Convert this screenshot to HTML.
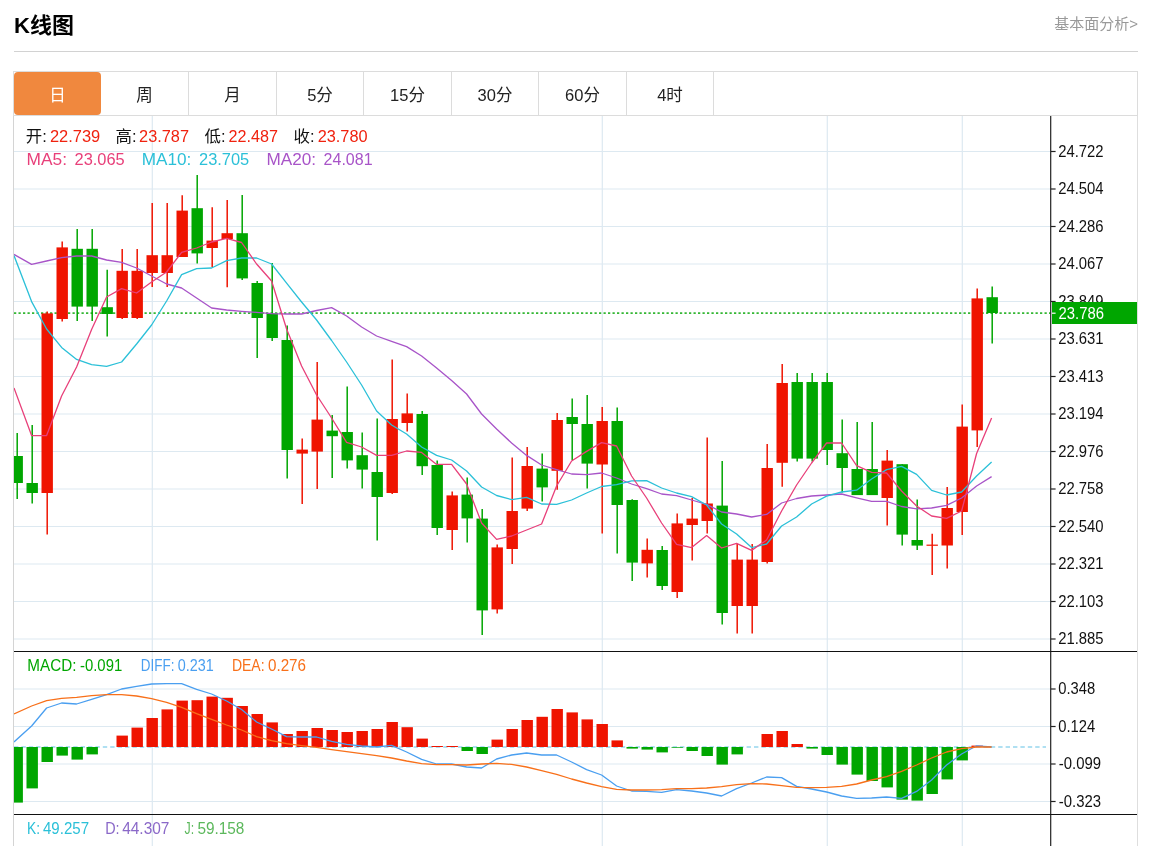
<!DOCTYPE html>
<html lang="zh-CN"><head><meta charset="utf-8"><title>K线图</title>
<style>
html,body{margin:0;padding:0;background:#fff;}
body{width:1153px;height:846px;position:relative;overflow:hidden;font-family:"Liberation Sans","Noto Sans CJK SC",sans-serif;}
h2{position:absolute;left:14px;top:12px;margin:0;font-size:22px;line-height:28px;font-weight:bold;color:#000;letter-spacing:0}
.more{position:absolute;right:15px;top:14px;font-size:15px;line-height:20px;color:#999;text-decoration:none}
.hr{position:absolute;left:14px;top:51px;width:1124px;height:1px;background:#d2d2d2}
ul.tabs{position:absolute;left:13px;top:71px;width:1123px;height:43px;margin:0;padding:0;list-style:none;border:1px solid #dcdcdc;box-sizing:content-box}
ul.tabs li{float:left;width:86.4px;height:43px;line-height:46px;text-align:center;font-size:16.5px;color:#222;border-right:1px solid #dcdcdc}
ul.tabs li.on{background:#f0883e;color:#fff;border-radius:4px;border-right:0;position:relative}
</style></head><body>
<h2>K线图</h2>
<a class="more">基本面分析&gt;</a>
<div class="hr"></div>
<ul class="tabs"><li class="on" style="width:87px">日</li><li style="width:87px">周</li><li style="width:87px">月</li><li style="width:86px">5分</li><li style="width:87px">15分</li><li style="width:86px">30分</li><li style="width:87px">60分</li><li style="width:86px">4时</li></ul>
<svg width="1153" height="846" viewBox="0 0 1153 846" style="position:absolute;left:0;top:0">
<defs><clipPath id="cp"><rect x="14" y="116" width="1037" height="730"/></clipPath></defs>
<g stroke="#dde9f1" stroke-width="1.2"><line x1="14" x2="1051" y1="151.5" y2="151.5"/><line x1="14" x2="1051" y1="189.0" y2="189.0"/><line x1="14" x2="1051" y1="226.5" y2="226.5"/><line x1="14" x2="1051" y1="264.0" y2="264.0"/><line x1="14" x2="1051" y1="301.5" y2="301.5"/><line x1="14" x2="1051" y1="339.0" y2="339.0"/><line x1="14" x2="1051" y1="376.5" y2="376.5"/><line x1="14" x2="1051" y1="414.0" y2="414.0"/><line x1="14" x2="1051" y1="451.5" y2="451.5"/><line x1="14" x2="1051" y1="489.0" y2="489.0"/><line x1="14" x2="1051" y1="526.5" y2="526.5"/><line x1="14" x2="1051" y1="564.0" y2="564.0"/><line x1="14" x2="1051" y1="601.5" y2="601.5"/><line x1="14" x2="1051" y1="639.0" y2="639.0"/><line x1="14" x2="1051" y1="689.0" y2="689.0"/><line x1="14" x2="1051" y1="726.5" y2="726.5"/><line x1="14" x2="1051" y1="764.0" y2="764.0"/><line x1="14" x2="1051" y1="801.5" y2="801.5"/><line x1="152.3" x2="152.3" y1="116" y2="846"/><line x1="602.3" x2="602.3" y1="116" y2="846"/><line x1="827.3" x2="827.3" y1="116" y2="846"/><line x1="962.3" x2="962.3" y1="116" y2="846"/></g>
<line x1="13.5" x2="13.5" y1="116" y2="846" stroke="#d4d4d4" stroke-width="1"/>
<line x1="1137.5" x2="1137.5" y1="116" y2="846" stroke="#dedede" stroke-width="1"/>
<line x1="14" x2="1051" y1="313.1" y2="313.1" stroke="#34b734" stroke-width="1.7" stroke-dasharray="2.25 2.25"/>
<line x1="14" x2="1046" y1="747" y2="747" stroke="#96d6ee" stroke-width="1.3" stroke-dasharray="4.4 3"/>
<g clip-path="url(#cp)"><line x1="17.2" x2="17.2" y1="433.0" y2="499.0" stroke="#00a600" stroke-width="1.5"/><rect x="11.5" y="456.0" width="11.4" height="27.0" fill="#00a600"/><line x1="32.2" x2="32.2" y1="425.0" y2="503.6" stroke="#00a600" stroke-width="1.5"/><rect x="26.5" y="483.0" width="11.4" height="10.0" fill="#00a600"/><line x1="47.2" x2="47.2" y1="311.4" y2="534.6" stroke="#ef1400" stroke-width="1.5"/><rect x="41.5" y="313.4" width="11.4" height="179.6" fill="#ef1400"/><line x1="62.2" x2="62.2" y1="241.6" y2="321.6" stroke="#ef1400" stroke-width="1.5"/><rect x="56.5" y="247.4" width="11.4" height="71.6" fill="#ef1400"/><line x1="77.2" x2="77.2" y1="229.0" y2="321.0" stroke="#00a600" stroke-width="1.5"/><rect x="71.5" y="248.8" width="11.4" height="57.8" fill="#00a600"/><line x1="92.2" x2="92.2" y1="229.0" y2="321.0" stroke="#00a600" stroke-width="1.5"/><rect x="86.5" y="248.8" width="11.4" height="57.8" fill="#00a600"/><line x1="107.2" x2="107.2" y1="269.8" y2="336.6" stroke="#00a600" stroke-width="1.5"/><rect x="101.5" y="307.2" width="11.4" height="6.8" fill="#00a600"/><line x1="122.2" x2="122.2" y1="249.0" y2="319.0" stroke="#ef1400" stroke-width="1.5"/><rect x="116.5" y="270.8" width="11.4" height="47.2" fill="#ef1400"/><line x1="137.2" x2="137.2" y1="249.0" y2="319.0" stroke="#ef1400" stroke-width="1.5"/><rect x="131.5" y="270.8" width="11.4" height="47.2" fill="#ef1400"/><line x1="152.2" x2="152.2" y1="203.0" y2="287.0" stroke="#ef1400" stroke-width="1.5"/><rect x="146.5" y="255.2" width="11.4" height="17.8" fill="#ef1400"/><line x1="167.2" x2="167.2" y1="203.0" y2="287.0" stroke="#ef1400" stroke-width="1.5"/><rect x="161.5" y="255.2" width="11.4" height="17.8" fill="#ef1400"/><line x1="182.2" x2="182.2" y1="195.2" y2="257.0" stroke="#ef1400" stroke-width="1.5"/><rect x="176.5" y="210.6" width="11.4" height="46.4" fill="#ef1400"/><line x1="197.2" x2="197.2" y1="175.0" y2="263.4" stroke="#00a600" stroke-width="1.5"/><rect x="191.5" y="208.2" width="11.4" height="45.2" fill="#00a600"/><line x1="212.2" x2="212.2" y1="207.2" y2="267.0" stroke="#ef1400" stroke-width="1.5"/><rect x="206.5" y="240.6" width="11.4" height="7.4" fill="#ef1400"/><line x1="227.2" x2="227.2" y1="200.0" y2="287.2" stroke="#ef1400" stroke-width="1.5"/><rect x="221.5" y="233.2" width="11.4" height="5.8" fill="#ef1400"/><line x1="242.2" x2="242.2" y1="195.0" y2="280.0" stroke="#00a600" stroke-width="1.5"/><rect x="236.5" y="233.2" width="11.4" height="45.2" fill="#00a600"/><line x1="257.2" x2="257.2" y1="281.0" y2="358.0" stroke="#00a600" stroke-width="1.5"/><rect x="251.5" y="283.0" width="11.4" height="35.0" fill="#00a600"/><line x1="272.2" x2="272.2" y1="263.0" y2="341.0" stroke="#00a600" stroke-width="1.5"/><rect x="266.5" y="313.4" width="11.4" height="24.6" fill="#00a600"/><line x1="287.2" x2="287.2" y1="325.5" y2="478.6" stroke="#00a600" stroke-width="1.5"/><rect x="281.5" y="340.0" width="11.4" height="110.0" fill="#00a600"/><line x1="302.2" x2="302.2" y1="438.4" y2="504.0" stroke="#ef1400" stroke-width="1.5"/><rect x="296.5" y="449.6" width="11.4" height="4.0" fill="#ef1400"/><line x1="317.2" x2="317.2" y1="362.0" y2="489.0" stroke="#ef1400" stroke-width="1.5"/><rect x="311.5" y="419.6" width="11.4" height="32.0" fill="#ef1400"/><line x1="332.2" x2="332.2" y1="415.0" y2="478.0" stroke="#00a600" stroke-width="1.5"/><rect x="326.5" y="430.6" width="11.4" height="5.6" fill="#00a600"/><line x1="347.2" x2="347.2" y1="386.4" y2="468.4" stroke="#00a600" stroke-width="1.5"/><rect x="341.5" y="432.0" width="11.4" height="28.4" fill="#00a600"/><line x1="362.2" x2="362.2" y1="432.4" y2="488.6" stroke="#00a600" stroke-width="1.5"/><rect x="356.5" y="455.2" width="11.4" height="14.4" fill="#00a600"/><line x1="377.2" x2="377.2" y1="418.4" y2="540.6" stroke="#00a600" stroke-width="1.5"/><rect x="371.5" y="472.0" width="11.4" height="25.0" fill="#00a600"/><line x1="392.2" x2="392.2" y1="359.4" y2="494.0" stroke="#ef1400" stroke-width="1.5"/><rect x="386.5" y="419.0" width="11.4" height="74.0" fill="#ef1400"/><line x1="407.2" x2="407.2" y1="393.6" y2="431.6" stroke="#ef1400" stroke-width="1.5"/><rect x="401.5" y="413.4" width="11.4" height="9.6" fill="#ef1400"/><line x1="422.2" x2="422.2" y1="411.0" y2="475.0" stroke="#00a600" stroke-width="1.5"/><rect x="416.5" y="414.0" width="11.4" height="52.2" fill="#00a600"/><line x1="437.2" x2="437.2" y1="460.4" y2="535.0" stroke="#00a600" stroke-width="1.5"/><rect x="431.5" y="465.0" width="11.4" height="63.0" fill="#00a600"/><line x1="452.2" x2="452.2" y1="491.4" y2="550.0" stroke="#ef1400" stroke-width="1.5"/><rect x="446.5" y="495.4" width="11.4" height="34.6" fill="#ef1400"/><line x1="467.2" x2="467.2" y1="477.6" y2="542.4" stroke="#00a600" stroke-width="1.5"/><rect x="461.5" y="494.6" width="11.4" height="23.8" fill="#00a600"/><line x1="482.2" x2="482.2" y1="509.0" y2="635.0" stroke="#00a600" stroke-width="1.5"/><rect x="476.5" y="518.6" width="11.4" height="91.8" fill="#00a600"/><line x1="497.2" x2="497.2" y1="544.4" y2="613.4" stroke="#ef1400" stroke-width="1.5"/><rect x="491.5" y="547.4" width="11.4" height="62.0" fill="#ef1400"/><line x1="512.2" x2="512.2" y1="457.6" y2="564.0" stroke="#ef1400" stroke-width="1.5"/><rect x="506.5" y="511.0" width="11.4" height="38.0" fill="#ef1400"/><line x1="527.2" x2="527.2" y1="447.0" y2="511.0" stroke="#ef1400" stroke-width="1.5"/><rect x="521.5" y="466.0" width="11.4" height="42.6" fill="#ef1400"/><line x1="542.2" x2="542.2" y1="453.6" y2="501.6" stroke="#00a600" stroke-width="1.5"/><rect x="536.5" y="468.6" width="11.4" height="18.8" fill="#00a600"/><line x1="557.2" x2="557.2" y1="413.0" y2="489.8" stroke="#ef1400" stroke-width="1.5"/><rect x="551.5" y="420.0" width="11.4" height="50.8" fill="#ef1400"/><line x1="572.2" x2="572.2" y1="398.4" y2="460.0" stroke="#00a600" stroke-width="1.5"/><rect x="566.5" y="417.0" width="11.4" height="7.0" fill="#00a600"/><line x1="587.2" x2="587.2" y1="395.0" y2="488.5" stroke="#00a600" stroke-width="1.5"/><rect x="581.5" y="424.0" width="11.4" height="39.6" fill="#00a600"/><line x1="602.2" x2="602.2" y1="407.0" y2="533.6" stroke="#ef1400" stroke-width="1.5"/><rect x="596.5" y="421.0" width="11.4" height="43.5" fill="#ef1400"/><line x1="617.2" x2="617.2" y1="407.4" y2="553.6" stroke="#00a600" stroke-width="1.5"/><rect x="611.5" y="421.0" width="11.4" height="84.0" fill="#00a600"/><line x1="632.2" x2="632.2" y1="499.2" y2="581.0" stroke="#00a600" stroke-width="1.5"/><rect x="626.5" y="500.0" width="11.4" height="62.6" fill="#00a600"/><line x1="647.2" x2="647.2" y1="538.6" y2="577.6" stroke="#ef1400" stroke-width="1.5"/><rect x="641.5" y="549.8" width="11.4" height="13.6" fill="#ef1400"/><line x1="662.2" x2="662.2" y1="546.0" y2="590.0" stroke="#00a600" stroke-width="1.5"/><rect x="656.5" y="550.0" width="11.4" height="36.0" fill="#00a600"/><line x1="677.2" x2="677.2" y1="513.4" y2="598.0" stroke="#ef1400" stroke-width="1.5"/><rect x="671.5" y="523.4" width="11.4" height="68.6" fill="#ef1400"/><line x1="692.2" x2="692.2" y1="498.0" y2="560.4" stroke="#ef1400" stroke-width="1.5"/><rect x="686.5" y="518.6" width="11.4" height="6.4" fill="#ef1400"/><line x1="707.2" x2="707.2" y1="437.6" y2="533.6" stroke="#ef1400" stroke-width="1.5"/><rect x="701.5" y="503.5" width="11.4" height="17.5" fill="#ef1400"/><line x1="722.2" x2="722.2" y1="461.0" y2="624.6" stroke="#00a600" stroke-width="1.5"/><rect x="716.5" y="505.6" width="11.4" height="107.4" fill="#00a600"/><line x1="737.2" x2="737.2" y1="544.0" y2="633.6" stroke="#ef1400" stroke-width="1.5"/><rect x="731.5" y="559.6" width="11.4" height="46.4" fill="#ef1400"/><line x1="752.2" x2="752.2" y1="544.0" y2="633.6" stroke="#ef1400" stroke-width="1.5"/><rect x="746.5" y="559.6" width="11.4" height="46.4" fill="#ef1400"/><line x1="767.2" x2="767.2" y1="444.0" y2="563.6" stroke="#ef1400" stroke-width="1.5"/><rect x="761.5" y="468.0" width="11.4" height="94.0" fill="#ef1400"/><line x1="782.2" x2="782.2" y1="364.0" y2="486.8" stroke="#ef1400" stroke-width="1.5"/><rect x="776.5" y="383.0" width="11.4" height="79.8" fill="#ef1400"/><line x1="797.2" x2="797.2" y1="373.0" y2="461.6" stroke="#00a600" stroke-width="1.5"/><rect x="791.5" y="382.0" width="11.4" height="76.6" fill="#00a600"/><line x1="812.2" x2="812.2" y1="373.0" y2="461.6" stroke="#00a600" stroke-width="1.5"/><rect x="806.5" y="382.0" width="11.4" height="76.6" fill="#00a600"/><line x1="827.2" x2="827.2" y1="373.0" y2="465.0" stroke="#00a600" stroke-width="1.5"/><rect x="821.5" y="382.0" width="11.4" height="68.0" fill="#00a600"/><line x1="842.2" x2="842.2" y1="419.4" y2="492.6" stroke="#00a600" stroke-width="1.5"/><rect x="836.5" y="453.2" width="11.4" height="14.8" fill="#00a600"/><line x1="857.2" x2="857.2" y1="422.0" y2="495.1" stroke="#00a600" stroke-width="1.5"/><rect x="851.5" y="469.0" width="11.4" height="26.1" fill="#00a600"/><line x1="872.2" x2="872.2" y1="422.0" y2="495.1" stroke="#00a600" stroke-width="1.5"/><rect x="866.5" y="469.0" width="11.4" height="26.1" fill="#00a600"/><line x1="887.2" x2="887.2" y1="450.0" y2="525.6" stroke="#ef1400" stroke-width="1.5"/><rect x="881.5" y="460.6" width="11.4" height="37.4" fill="#ef1400"/><line x1="902.2" x2="902.2" y1="464.2" y2="545.6" stroke="#00a600" stroke-width="1.5"/><rect x="896.5" y="464.2" width="11.4" height="70.4" fill="#00a600"/><line x1="917.2" x2="917.2" y1="499.6" y2="550.0" stroke="#00a600" stroke-width="1.5"/><rect x="911.5" y="540.0" width="11.4" height="5.6" fill="#00a600"/><line x1="932.2" x2="932.2" y1="533.8" y2="575.0" stroke="#ef1400" stroke-width="1.5"/><rect x="926.5" y="544.6" width="11.4" height="1.2" fill="#ef1400"/><line x1="947.2" x2="947.2" y1="487.0" y2="568.6" stroke="#ef1400" stroke-width="1.5"/><rect x="941.5" y="508.0" width="11.4" height="37.5" fill="#ef1400"/><line x1="962.2" x2="962.2" y1="404.4" y2="535.0" stroke="#ef1400" stroke-width="1.5"/><rect x="956.5" y="426.6" width="11.4" height="85.4" fill="#ef1400"/><line x1="977.2" x2="977.2" y1="288.4" y2="447.0" stroke="#ef1400" stroke-width="1.5"/><rect x="971.5" y="298.4" width="11.4" height="132.0" fill="#ef1400"/><line x1="992.2" x2="992.2" y1="286.4" y2="343.6" stroke="#00a600" stroke-width="1.5"/><rect x="986.5" y="297.2" width="11.4" height="15.8" fill="#00a600"/></g>
<g clip-path="url(#cp)"><rect x="11.5" y="747.0" width="11.4" height="55.6" fill="#00a600"/><rect x="26.5" y="747.0" width="11.4" height="41.4" fill="#00a600"/><rect x="41.5" y="747.0" width="11.4" height="15.0" fill="#00a600"/><rect x="56.5" y="747.0" width="11.4" height="8.6" fill="#00a600"/><rect x="71.5" y="747.0" width="11.4" height="12.6" fill="#00a600"/><rect x="86.5" y="747.0" width="11.4" height="7.4" fill="#00a600"/><rect x="116.5" y="735.6" width="11.4" height="11.4" fill="#ef1400"/><rect x="131.5" y="727.6" width="11.4" height="19.4" fill="#ef1400"/><rect x="146.5" y="718.0" width="11.4" height="29.0" fill="#ef1400"/><rect x="161.5" y="709.4" width="11.4" height="37.6" fill="#ef1400"/><rect x="176.5" y="700.6" width="11.4" height="46.4" fill="#ef1400"/><rect x="191.5" y="700.2" width="11.4" height="46.8" fill="#ef1400"/><rect x="206.5" y="696.6" width="11.4" height="50.4" fill="#ef1400"/><rect x="221.5" y="697.8" width="11.4" height="49.2" fill="#ef1400"/><rect x="236.5" y="706.0" width="11.4" height="41.0" fill="#ef1400"/><rect x="251.5" y="714.0" width="11.4" height="33.0" fill="#ef1400"/><rect x="266.5" y="722.4" width="11.4" height="24.6" fill="#ef1400"/><rect x="281.5" y="734.0" width="11.4" height="13.0" fill="#ef1400"/><rect x="296.5" y="731.0" width="11.4" height="16.0" fill="#ef1400"/><rect x="311.5" y="728.0" width="11.4" height="19.0" fill="#ef1400"/><rect x="326.5" y="730.0" width="11.4" height="17.0" fill="#ef1400"/><rect x="341.5" y="732.0" width="11.4" height="15.0" fill="#ef1400"/><rect x="356.5" y="731.0" width="11.4" height="16.0" fill="#ef1400"/><rect x="371.5" y="729.0" width="11.4" height="18.0" fill="#ef1400"/><rect x="386.5" y="722.0" width="11.4" height="25.0" fill="#ef1400"/><rect x="401.5" y="727.2" width="11.4" height="19.8" fill="#ef1400"/><rect x="416.5" y="738.6" width="11.4" height="8.4" fill="#ef1400"/><rect x="431.5" y="746.0" width="11.4" height="1.0" fill="#ef1400"/><rect x="446.5" y="746.0" width="11.4" height="1.0" fill="#ef1400"/><rect x="461.5" y="747.0" width="11.4" height="4.0" fill="#00a600"/><rect x="476.5" y="747.0" width="11.4" height="7.0" fill="#00a600"/><rect x="491.5" y="739.6" width="11.4" height="7.4" fill="#ef1400"/><rect x="506.5" y="729.0" width="11.4" height="18.0" fill="#ef1400"/><rect x="521.5" y="720.0" width="11.4" height="27.0" fill="#ef1400"/><rect x="536.5" y="716.8" width="11.4" height="30.2" fill="#ef1400"/><rect x="551.5" y="709.0" width="11.4" height="38.0" fill="#ef1400"/><rect x="566.5" y="712.4" width="11.4" height="34.6" fill="#ef1400"/><rect x="581.5" y="719.4" width="11.4" height="27.6" fill="#ef1400"/><rect x="596.5" y="724.0" width="11.4" height="23.0" fill="#ef1400"/><rect x="611.5" y="740.4" width="11.4" height="6.6" fill="#ef1400"/><rect x="626.5" y="747.0" width="11.4" height="1.6" fill="#00a600"/><rect x="641.5" y="747.0" width="11.4" height="2.6" fill="#00a600"/><rect x="656.5" y="747.0" width="11.4" height="5.4" fill="#00a600"/><rect x="671.5" y="747.0" width="11.4" height="0.7" fill="#00a600"/><rect x="686.5" y="747.0" width="11.4" height="4.0" fill="#00a600"/><rect x="701.5" y="747.0" width="11.4" height="9.0" fill="#00a600"/><rect x="716.5" y="747.0" width="11.4" height="17.6" fill="#00a600"/><rect x="731.5" y="747.0" width="11.4" height="7.4" fill="#00a600"/><rect x="761.5" y="734.0" width="11.4" height="13.0" fill="#ef1400"/><rect x="776.5" y="731.0" width="11.4" height="16.0" fill="#ef1400"/><rect x="791.5" y="744.0" width="11.4" height="3.0" fill="#ef1400"/><rect x="806.5" y="747.0" width="11.4" height="1.6" fill="#00a600"/><rect x="821.5" y="747.0" width="11.4" height="8.0" fill="#00a600"/><rect x="836.5" y="747.0" width="11.4" height="17.6" fill="#00a600"/><rect x="851.5" y="747.0" width="11.4" height="27.6" fill="#00a600"/><rect x="866.5" y="747.0" width="11.4" height="34.0" fill="#00a600"/><rect x="881.5" y="747.0" width="11.4" height="40.4" fill="#00a600"/><rect x="896.5" y="747.0" width="11.4" height="52.6" fill="#00a600"/><rect x="911.5" y="747.0" width="11.4" height="53.6" fill="#00a600"/><rect x="926.5" y="747.0" width="11.4" height="47.0" fill="#00a600"/><rect x="941.5" y="747.0" width="11.4" height="32.4" fill="#00a600"/><rect x="956.5" y="747.0" width="11.4" height="13.4" fill="#00a600"/><rect x="971.5" y="745.6" width="11.4" height="1.4" fill="#ef1400"/></g>
<g clip-path="url(#cp)">
<polyline fill="none" stroke="#a854c8" stroke-width="1.3" stroke-linejoin="round" points="14.0,254.4 31.6,264.4 46.6,261.0 61.6,257.6 76.6,256.0 91.6,256.0 106.6,260.0 121.6,262.4 136.6,268.0 151.6,276.0 166.6,284.0 181.6,288.0 196.6,298.0 211.6,308.0 226.6,310.0 241.6,311.3 256.6,312.4 271.6,313.6 286.6,314.0 301.6,314.0 316.6,310.5 331.6,307.6 346.6,316.0 361.6,327.0 376.6,336.0 391.6,341.4 406.6,346.6 421.6,356.0 436.6,368.0 451.6,380.6 466.6,394.0 481.6,414.0 496.6,429.0 511.6,443.0 526.6,455.4 541.6,465.0 556.6,469.6 571.6,474.0 586.6,474.6 601.6,473.0 616.6,478.0 631.6,484.0 646.6,488.6 661.6,494.0 676.6,495.7 691.6,500.0 706.6,504.4 721.6,512.0 736.6,514.0 751.6,517.0 766.6,514.4 781.6,503.0 796.6,498.5 811.6,496.0 826.6,495.0 841.6,494.0 856.6,497.8 871.6,501.4 886.6,501.4 901.6,506.5 916.6,508.8 931.6,508.0 946.6,505.4 961.6,498.0 976.6,486.0 991.6,476.6"/>
<polyline fill="none" stroke="#2bc0d8" stroke-width="1.3" stroke-linejoin="round" points="14.0,255.6 31.6,301.6 46.6,329.0 61.6,347.4 76.6,359.4 91.6,364.6 106.6,366.4 121.6,362.0 136.6,344.0 151.6,325.0 166.6,301.0 181.6,274.6 196.6,268.6 211.6,268.0 226.6,260.6 241.6,258.0 256.6,258.0 271.6,264.0 286.6,283.2 301.6,302.0 316.6,320.0 331.6,340.5 346.6,362.0 361.6,385.0 376.6,411.0 391.6,425.0 406.6,434.0 421.6,447.0 436.6,455.4 451.6,460.0 466.6,471.0 481.6,487.0 496.6,495.5 511.6,499.6 526.6,497.4 541.6,504.0 556.6,504.4 571.6,500.0 586.6,493.0 601.6,486.5 616.6,484.7 631.6,480.8 646.6,480.6 661.6,488.0 676.6,493.0 691.6,496.6 706.6,505.0 721.6,524.0 736.6,534.0 751.6,547.6 766.6,544.0 781.6,526.0 796.6,517.0 811.6,504.0 826.6,496.2 841.6,492.0 856.6,490.2 871.6,479.0 886.6,469.6 901.6,466.4 916.6,474.4 931.6,490.4 946.6,495.0 961.6,492.0 976.6,476.0 991.6,462.0"/>
<polyline fill="none" stroke="#e8407a" stroke-width="1.3" stroke-linejoin="round" points="14.0,388.0 31.6,435.6 46.6,435.6 61.6,396.0 76.6,367.0 91.6,329.5 106.6,297.0 121.6,288.6 136.6,293.0 151.6,282.0 166.6,272.0 181.6,252.4 196.6,248.0 211.6,242.0 226.6,238.4 241.6,242.5 256.6,264.0 271.6,281.0 286.6,329.0 301.6,366.0 316.6,395.0 331.6,418.0 346.6,442.4 361.6,447.0 376.6,455.4 391.6,455.4 406.6,451.0 421.6,452.4 436.6,464.4 451.6,464.4 466.6,484.0 481.6,523.0 496.6,539.4 511.6,536.0 526.6,530.0 541.6,524.0 556.6,486.0 571.6,461.0 586.6,451.4 601.6,442.6 616.6,446.0 631.6,476.0 646.6,498.0 661.6,523.0 676.6,544.4 691.6,547.6 706.6,535.6 721.6,548.0 736.6,543.4 751.6,550.4 766.6,540.0 781.6,511.0 796.6,485.0 811.6,463.0 826.6,443.0 841.6,443.0 856.6,465.6 871.6,472.4 886.6,473.0 901.6,491.0 916.6,506.0 931.6,516.0 946.6,518.4 961.6,511.0 976.6,453.5 991.6,418.0"/>
<polyline fill="none" stroke="#4a9ff0" stroke-width="1.3" stroke-linejoin="round" points="14.0,742.0 31.6,726.0 46.6,708.0 61.6,703.0 76.6,704.0 91.6,699.4 106.6,694.6 121.6,689.0 136.6,686.4 151.6,684.0 166.6,683.6 181.6,683.6 196.6,689.4 211.6,694.0 226.6,701.0 241.6,709.5 256.6,722.0 271.6,729.0 286.6,736.6 301.6,737.0 316.6,737.0 331.6,741.4 346.6,744.4 361.6,746.0 376.6,747.0 391.6,745.4 406.6,752.0 421.6,759.4 436.6,764.0 451.6,764.0 466.6,767.0 481.6,768.0 496.6,759.0 511.6,755.0 526.6,753.0 541.6,755.0 556.6,755.0 571.6,762.0 586.6,769.6 601.6,775.0 616.6,786.0 631.6,791.0 646.6,791.4 661.6,792.4 676.6,789.6 691.6,791.0 706.6,793.0 721.6,796.0 736.6,788.6 751.6,783.0 766.6,777.0 781.6,777.6 796.6,786.4 811.6,789.0 826.6,792.0 841.6,796.0 856.6,798.4 871.6,798.0 886.6,797.0 901.6,798.4 916.6,791.4 931.6,780.0 946.6,765.0 961.6,754.0 976.6,745.8 991.6,747.0"/>
<polyline fill="none" stroke="#f8701a" stroke-width="1.3" stroke-linejoin="round" points="14.0,714.0 31.6,706.0 46.6,700.6 61.6,698.4 76.6,697.4 91.6,695.6 106.6,694.6 121.6,694.6 136.6,696.0 151.6,698.6 166.6,702.4 181.6,707.4 196.6,713.6 211.6,719.4 226.6,725.0 241.6,730.0 256.6,736.6 271.6,740.6 286.6,743.6 301.6,745.6 316.6,747.4 331.6,749.6 346.6,751.6 361.6,753.6 376.6,755.6 391.6,758.0 406.6,761.0 421.6,763.6 436.6,764.6 451.6,764.6 466.6,765.0 481.6,764.0 496.6,763.4 511.6,764.4 526.6,767.0 541.6,770.6 556.6,774.4 571.6,779.0 586.6,783.0 601.6,786.6 616.6,789.4 631.6,790.0 646.6,790.0 661.6,789.6 676.6,788.6 691.6,788.6 706.6,788.0 721.6,786.6 736.6,784.6 751.6,783.6 766.6,784.0 781.6,785.6 796.6,787.4 811.6,787.6 826.6,787.4 841.6,786.4 856.6,784.0 871.6,780.0 886.6,776.6 901.6,771.4 916.6,765.0 931.6,758.0 946.6,752.0 961.6,748.6 976.6,747.0 991.6,747.0"/>
</g>
<line x1="1050.7" x2="1050.7" y1="116" y2="846" stroke="#222" stroke-width="1.2"/>
<line x1="14" x2="1137" y1="651.5" y2="651.5" stroke="#111" stroke-width="1"/>
<line x1="14" x2="1137" y1="814.5" y2="814.5" stroke="#111" stroke-width="1"/>
<g stroke="#222" stroke-width="1.2"><line x1="1051" x2="1055.6" y1="151.5" y2="151.5"/><line x1="1051" x2="1055.6" y1="189.0" y2="189.0"/><line x1="1051" x2="1055.6" y1="226.5" y2="226.5"/><line x1="1051" x2="1055.6" y1="264.0" y2="264.0"/><line x1="1051" x2="1055.6" y1="301.5" y2="301.5"/><line x1="1051" x2="1055.6" y1="339.0" y2="339.0"/><line x1="1051" x2="1055.6" y1="376.5" y2="376.5"/><line x1="1051" x2="1055.6" y1="414.0" y2="414.0"/><line x1="1051" x2="1055.6" y1="451.5" y2="451.5"/><line x1="1051" x2="1055.6" y1="489.0" y2="489.0"/><line x1="1051" x2="1055.6" y1="526.5" y2="526.5"/><line x1="1051" x2="1055.6" y1="564.0" y2="564.0"/><line x1="1051" x2="1055.6" y1="601.5" y2="601.5"/><line x1="1051" x2="1055.6" y1="639.0" y2="639.0"/><line x1="1051" x2="1055.6" y1="689.0" y2="689.0"/><line x1="1051" x2="1055.6" y1="726.5" y2="726.5"/><line x1="1051" x2="1055.6" y1="764.0" y2="764.0"/><line x1="1051" x2="1055.6" y1="801.5" y2="801.5"/></g>
<g font-family="'Liberation Sans', sans-serif" font-size="16.4" fill="#111"><text x="1058.2" y="156.8" textLength="45.4" lengthAdjust="spacingAndGlyphs">24.722</text><text x="1058.2" y="194.3" textLength="45.4" lengthAdjust="spacingAndGlyphs">24.504</text><text x="1058.2" y="231.8" textLength="45.4" lengthAdjust="spacingAndGlyphs">24.286</text><text x="1058.2" y="269.3" textLength="45.4" lengthAdjust="spacingAndGlyphs">24.067</text><text x="1058.2" y="306.8" textLength="45.4" lengthAdjust="spacingAndGlyphs">23.849</text><text x="1058.2" y="344.3" textLength="45.4" lengthAdjust="spacingAndGlyphs">23.631</text><text x="1058.2" y="381.8" textLength="45.4" lengthAdjust="spacingAndGlyphs">23.413</text><text x="1058.2" y="419.3" textLength="45.4" lengthAdjust="spacingAndGlyphs">23.194</text><text x="1058.2" y="456.8" textLength="45.4" lengthAdjust="spacingAndGlyphs">22.976</text><text x="1058.2" y="494.3" textLength="45.4" lengthAdjust="spacingAndGlyphs">22.758</text><text x="1058.2" y="531.8" textLength="45.4" lengthAdjust="spacingAndGlyphs">22.540</text><text x="1058.2" y="569.3" textLength="45.4" lengthAdjust="spacingAndGlyphs">22.321</text><text x="1058.2" y="606.8" textLength="45.4" lengthAdjust="spacingAndGlyphs">22.103</text><text x="1058.2" y="644.3" textLength="45.4" lengthAdjust="spacingAndGlyphs">21.885</text><text x="1058.2" y="694.3" textLength="37.0" lengthAdjust="spacingAndGlyphs">0.348</text><text x="1058.2" y="731.8" textLength="37.0" lengthAdjust="spacingAndGlyphs">0.124</text><text x="1058.8" y="769.3" textLength="42.3" lengthAdjust="spacingAndGlyphs">-0.099</text><text x="1058.8" y="806.8" textLength="42.3" lengthAdjust="spacingAndGlyphs">-0.323</text></g>
<rect x="1052" y="302" width="85" height="22" fill="#00a600"/>
<line x1="1052" x2="1055.6" y1="313.2" y2="313.2" stroke="#fff" stroke-width="1.2"/>
<text x="1058.6" y="318.9" font-family="'Liberation Sans', sans-serif" font-size="16.4" fill="#fff" textLength="45.4" lengthAdjust="spacingAndGlyphs">23.786</text>
<g font-family="'Liberation Sans','Noto Sans CJK SC',sans-serif"><text x="25.8" y="141.9" textLength="21.0" lengthAdjust="spacingAndGlyphs" fill="#111" font-size="16">开:</text><text x="49.9" y="141.9" textLength="50.3" lengthAdjust="spacingAndGlyphs" fill="#f0220f" font-size="16">22.739</text><text x="115.6" y="141.9" textLength="21.0" lengthAdjust="spacingAndGlyphs" fill="#111" font-size="16">高:</text><text x="139.1" y="141.9" textLength="49.9" lengthAdjust="spacingAndGlyphs" fill="#f0220f" font-size="16">23.787</text><text x="204.5" y="141.9" textLength="21.0" lengthAdjust="spacingAndGlyphs" fill="#111" font-size="16">低:</text><text x="228.5" y="141.9" textLength="49.4" lengthAdjust="spacingAndGlyphs" fill="#f0220f" font-size="16">22.487</text><text x="293.6" y="141.9" textLength="21.0" lengthAdjust="spacingAndGlyphs" fill="#111" font-size="16">收:</text><text x="317.7" y="141.9" textLength="49.9" lengthAdjust="spacingAndGlyphs" fill="#f0220f" font-size="16">23.780</text><text x="26.6" y="165.0" textLength="40.4" lengthAdjust="spacingAndGlyphs" fill="#e8407a" font-size="16">MA5:</text><text x="74.5" y="165.0" textLength="50.2" lengthAdjust="spacingAndGlyphs" fill="#e8407a" font-size="16">23.065</text><text x="141.7" y="165.0" textLength="49.6" lengthAdjust="spacingAndGlyphs" fill="#2bc0d8" font-size="16">MA10:</text><text x="199.0" y="165.0" textLength="50.2" lengthAdjust="spacingAndGlyphs" fill="#2bc0d8" font-size="16">23.705</text><text x="266.4" y="165.0" textLength="49.6" lengthAdjust="spacingAndGlyphs" fill="#a854c8" font-size="16">MA20:</text><text x="323.6" y="165.0" textLength="49.0" lengthAdjust="spacingAndGlyphs" fill="#a854c8" font-size="16">24.081</text><text x="27.3" y="670.8" textLength="49.1" lengthAdjust="spacingAndGlyphs" fill="#00a600" font-size="16">MACD:</text><text x="80.0" y="670.8" textLength="42.2" lengthAdjust="spacingAndGlyphs" fill="#00a600" font-size="16">-0.091</text><text x="140.8" y="670.8" textLength="33.6" lengthAdjust="spacingAndGlyphs" fill="#4a9ff0" font-size="16">DIFF:</text><text x="177.8" y="670.8" textLength="36.0" lengthAdjust="spacingAndGlyphs" fill="#4a9ff0" font-size="16">0.231</text><text x="231.9" y="670.8" textLength="32.7" lengthAdjust="spacingAndGlyphs" fill="#f8701a" font-size="16">DEA:</text><text x="268.0" y="670.8" textLength="38.0" lengthAdjust="spacingAndGlyphs" fill="#f8701a" font-size="16">0.276</text><text x="27.0" y="833.5" textLength="13.0" lengthAdjust="spacingAndGlyphs" fill="#2bc0d8" font-size="16">K:</text><text x="43.0" y="833.5" textLength="46.0" lengthAdjust="spacingAndGlyphs" fill="#2bc0d8" font-size="16">49.257</text><text x="105.2" y="833.5" textLength="14.4" lengthAdjust="spacingAndGlyphs" fill="#8a68c8" font-size="16">D:</text><text x="122.2" y="833.5" textLength="47.2" lengthAdjust="spacingAndGlyphs" fill="#8a68c8" font-size="16">44.307</text><text x="184.6" y="833.5" textLength="9.6" lengthAdjust="spacingAndGlyphs" fill="#5cb85c" font-size="16">J:</text><text x="197.4" y="833.5" textLength="47.0" lengthAdjust="spacingAndGlyphs" fill="#5cb85c" font-size="16">59.158</text></g>
</svg>
</body></html>
